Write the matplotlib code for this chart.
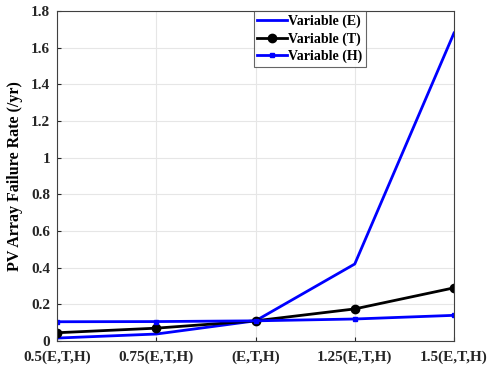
import numpy as np, matplotlib
matplotlib.use('Agg'); import matplotlib.pyplot as plt

plt.rcParams.update({'font.family':'Liberation Serif','font.weight':'bold','font.size':11})

labels=['0.5(E,T,H)','0.75(E,T,H)','(E,T,H)','1.25(E,T,H)','1.5(E,T,H)']
var_E=[0.016,0.038,0.110,0.420,1.680]
var_T=[0.045,0.070,0.110,0.175,0.290]
var_H=[0.105,0.106,0.110,0.120,0.140]

fig=plt.figure(figsize=(4.94,3.70),dpi=100)
ax=fig.add_axes([57/494,1-341/370,(454-57)/494,(341-11)/370])
x=np.arange(len(labels))
ax.plot(x,var_E,'-',color='#0000FF',lw=2,label='Variable (E)')
ax.plot(x,var_T,'-o',color='black',lw=2,ms=6,mfc='black',label='Variable (T)')
ax.plot(x,var_H,'-s',color='#0000FF',lw=2,ms=3.5,label='Variable (H)')
ax.set_xlim(0,4); ax.set_ylim(0,1.8)
ax.set_xticks(x); ax.set_xticklabels(labels)
ax.set_yticks(np.arange(0,1.81,0.2))
ax.set_yticklabels(['0','0.2','0.4','0.6','0.8','1','1.2','1.4','1.6','1.8'])
ax.grid(True,color='#E6E6E6',lw=0.8)
ax.set_axisbelow(True)
for s in ax.spines.values(): s.set_color('#404040'); s.set_linewidth(0.8)
ax.tick_params(direction='in',length=3,colors='#262626',labelsize=11)
ax.tick_params(axis='x',pad=7)
ax.tick_params(axis='y',pad=5)
ax.set_ylabel('PV Array Failure Rate (/yr)',fontsize=11.5,fontweight='bold',labelpad=6)
leg=ax.legend(loc='upper left',bbox_to_anchor=((254-57)/397,1.0),fancybox=False,edgecolor='#404040',
              fontsize=10,handlelength=2.1,handletextpad=0.1,borderpad=0.25,labelspacing=0.3,borderaxespad=0)
leg.get_frame().set_linewidth(0.8)
fig.savefig('out.png',dpi=100)
